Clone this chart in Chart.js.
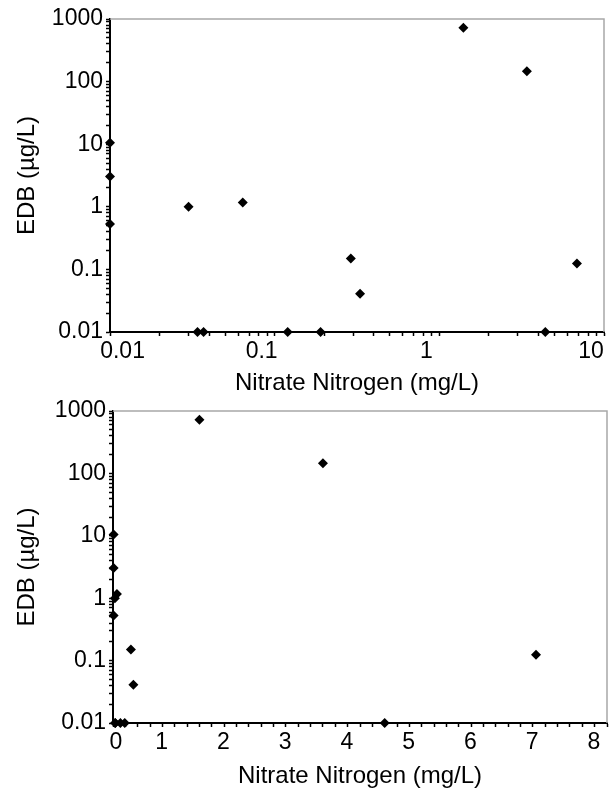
<!DOCTYPE html>
<html>
<head>
<meta charset="utf-8">
<script src="https://cdn.jsdelivr.net/npm/chart.js@4.4.0/dist/chart.umd.min.js"></script>
<style>
  body { margin: 0; background: #fff; }
  canvas { display: block; }
</style>
</head>
<body>
<canvas id="logChart" width="613" height="398"></canvas>
<canvas id="linChart" width="613" height="395"></canvas>
<script>
// Nitrate nitrogen (mg/L) vs EDB (ug/L), one value per well
const nitrate = [0.01, 0.01, 0.01, 0.03, 0.064, 0.034, 0.037, 0.12, 0.19, 0.29, 0.33, 1.4, 3.4, 4.4, 6.85];
const edb = [10.5, 3.05, 0.53, 1.0, 1.17, 0.01, 0.01, 0.01, 0.01, 0.15, 0.041, 725, 146, 0.01, 0.124];

const edbTicks = [0.01, 0.1, 1, 10, 100, 1000];
const logNitrateTicks = [0.01, 0.1, 1, 10];
const linNitrateTicks = [0, 1, 2, 3, 4, 5, 6, 7, 8];

const TICK_FONT = { family: "'Liberation Sans', Arial, sans-serif", size: 23 };
const TITLE_FONT = { family: "'Liberation Sans', Arial, sans-serif", size: 24 };

// major decades plus 2..9 minor marks in between
function withMinors(majors) {
    const out = [];
    majors.forEach((m, i) => {
        out.push(m);
        if (i < majors.length - 1) {
            for (let k = 2; k <= 9; k++) out.push(m * k);
        }
    });
    return out.map(v => ({ value: v }));
}

function linearWithMinors(majors) {
    const out = [];
    majors.forEach((m, i) => {
        out.push(m);
        if (i < majors.length - 1) {
            for (let k = 1; k < 5; k++) out.push(m + k / 5);
        }
    });
    return out.map(v => ({ value: v }));
}

const frame = {
    id: 'frame',
    beforeDatasetsDraw(chart) {
        const { ctx, chartArea: a } = chart;
        ctx.save();
        ctx.strokeStyle = '#a8a8a8';
        ctx.lineWidth = 1.5;
        ctx.beginPath();
        ctx.moveTo(a.left, a.top);
        ctx.lineTo(a.right, a.top);
        ctx.lineTo(a.right, a.bottom);
        ctx.stroke();
        ctx.restore();
    }
};

function yAxis(width) {
    return {
        type: 'logarithmic',
        min: 0.01,
        max: 1000,
        afterBuildTicks: s => { s.ticks = withMinors(edbTicks); },
        afterFit: s => { s.width = width; s.paddingTop = 0; s.paddingBottom = 0; },
        ticks: {
            autoSkip: false,
            color: '#000',
            font: TICK_FONT,
            padding: 3,
            callback: v => edbTicks.includes(v) ? String(v) : ''
        },
        grid: { drawOnChartArea: false, tickLength: 4, tickWidth: 1.5, tickColor: '#000' },
        border: { color: '#000', width: 2 },
        title: { display: true, text: 'EDB (µg/L)', color: '#000', font: TITLE_FONT, padding: { top: 13, bottom: 0 } }
    };
}

function makeChart(id, xScale, pad) {
    new Chart(document.getElementById(id), {
        type: 'scatter',
        data: {
            datasets: [{
                data: nitrate.map((x, i) => ({ x: x, y: edb[i] })),
                pointStyle: 'rectRot',
                pointRadius: 5,
                backgroundColor: '#000',
                borderColor: '#000',
                borderWidth: 0,
                clip: false
            }]
        },
        options: {
            responsive: false,
            animation: false,
            layout: { padding: pad },
            plugins: { legend: { display: false }, tooltip: { enabled: false } },
            scales: { x: xScale, y: yAxis(pad.yWidth) }
        },
        plugins: [frame]
    });
}

// log-log chart
makeChart('logChart', {
    type: 'logarithmic',
    min: 0.01,
    max: 10,
    afterBuildTicks: s => { s.ticks = withMinors(logNitrateTicks); },
    afterFit: s => { s.height = 66; s.paddingLeft = 0; s.paddingRight = 0; },
    ticks: {
        autoSkip: false,
        maxRotation: 0,
        color: '#000',
        font: TICK_FONT,
        padding: 2,
        labelOffset: -13,
        callback: v => v === 0.01 ? '        0.01' : (logNitrateTicks.includes(v) ? String(v) : '')
    },
    grid: { drawOnChartArea: false, tickLength: 4, tickWidth: 1.5, tickColor: '#000' },
    border: { color: '#000', width: 2 },
    title: { display: true, text: 'Nitrate Nitrogen (mg/L)', color: '#000', font: TITLE_FONT, padding: { top: 0, bottom: 0 } }
}, { top: 19, right: 9, left: 0, bottom: 0, yWidth: 110 });

// linear x, log y chart
makeChart('linChart', {
    type: 'linear',
    min: 0,
    max: 8,
    afterBuildTicks: s => { s.ticks = linearWithMinors(linNitrateTicks); },
    afterFit: s => { s.height = 70; s.paddingLeft = 0; s.paddingRight = 0; },
    ticks: {
        autoSkip: false,
        maxRotation: 0,
        color: '#000',
        font: TICK_FONT,
        padding: 2,
        labelOffset: -13,
        callback: v => v === 0 ? '     0' : (linNitrateTicks.includes(v) ? String(v) : '')
    },
    grid: { drawOnChartArea: false, tickLength: 4, tickWidth: 1.5, tickColor: '#000' },
    border: { color: '#000', width: 2 },
    title: { display: true, text: 'Nitrate Nitrogen (mg/L)', color: '#000', font: TITLE_FONT, padding: { top: 0, bottom: 2 } }
}, { top: 13, right: 6, left: 0, bottom: 0, yWidth: 113 });
</script>
</body>
</html>
